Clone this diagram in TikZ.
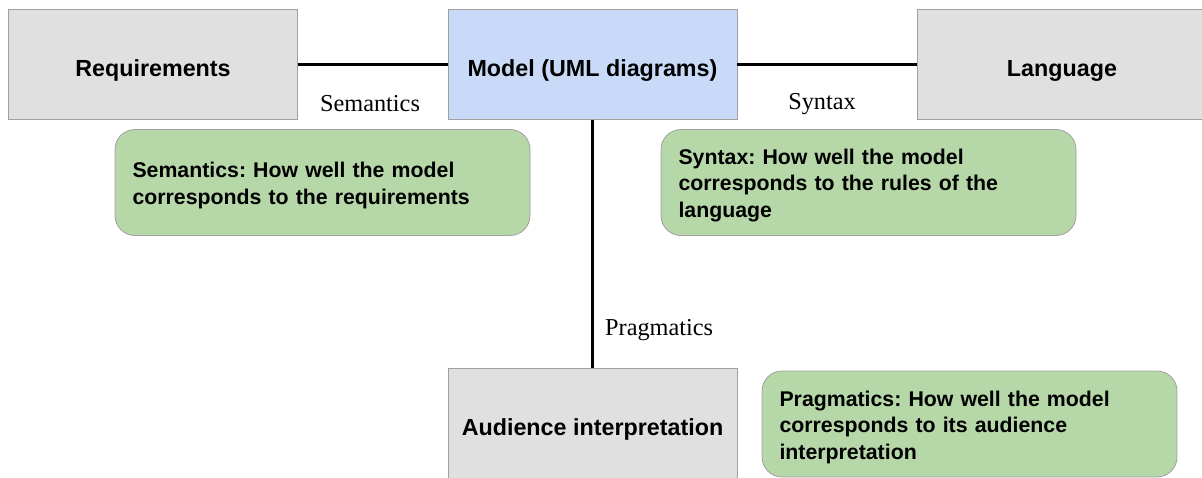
\documentclass[tikz,border=0pt]{standalone}
\usepackage{fontspec}
\setmainfont{Liberation Sans}
\newfontfamily\labelfont{Liberation Serif}
\definecolor{boxgrey}{HTML}{E0E0E0}
\definecolor{boxblue}{HTML}{C9DAF8}
\definecolor{boxgreen}{HTML}{B6D7A8}
\definecolor{edgegrey}{HTML}{A0A0A0}
\frenchspacing
\begin{document}
\begin{tikzpicture}[x=1pt,y=-1pt,
  mainbox/.style={draw=edgegrey, line width=0.8pt, minimum width=289pt, minimum height=110pt, inner sep=0pt,
    text height=23pt, text depth=0pt,
    font=\fontsize{23.3}{28}\selectfont\bfseries},
  notebox/.style={draw=edgegrey, line width=0.8pt, fill=boxgreen, rounded corners=20pt,
    minimum width=415pt, minimum height=106pt, text width=380pt, align=left, inner sep=0pt,
    text height=21.5pt,
    font=\fontsize{21.3}{26.5}\selectfont\bfseries},
  conn/.style={line width=3pt, black},
  lbl/.style={font=\labelfont\fontsize{24.3}{28}\selectfont, inner sep=0pt}
]
\useasboundingbox (0,0) rectangle (1202,477);
\clip (0,0) rectangle (1202,477);
\node[mainbox, fill=boxgrey] (req) at (153,64.5) {Requirements};
\node[mainbox, fill=boxblue] (model) at (592.5,64.5) {Model (UML diagrams)};
\node[mainbox, fill=boxgrey] (lang) at (1062,64.5) {Language};
\node[mainbox, fill=boxgrey] (aud) at (592.5,423.5) {Audience interpretation};
\draw[conn] (req.east) -- (model.west);
\draw[conn] (model.east) -- (lang.west);
\draw[conn] (model.south) -- (aud.north);
\node[lbl] (lsem) at (370,104) {Semantics};
\node[lbl] (lsyn) at (822,104) {Syntax};
\node[lbl, anchor=west] (lprag) at (605,330) {Pragmatics};
\node[notebox] (nsem) at (322.5,182.5) {Semantics: How well the model\\corresponds to the requirements};
\node[notebox] (nsyn) at (868.5,182.5) {Syntax: How well the model\\corresponds to the rules of the\\language};
\node[notebox] (nprag) at (969.5,424) {Pragmatics: How well the model\\corresponds to its audience\\interpretation};
\end{tikzpicture}
\end{document}
